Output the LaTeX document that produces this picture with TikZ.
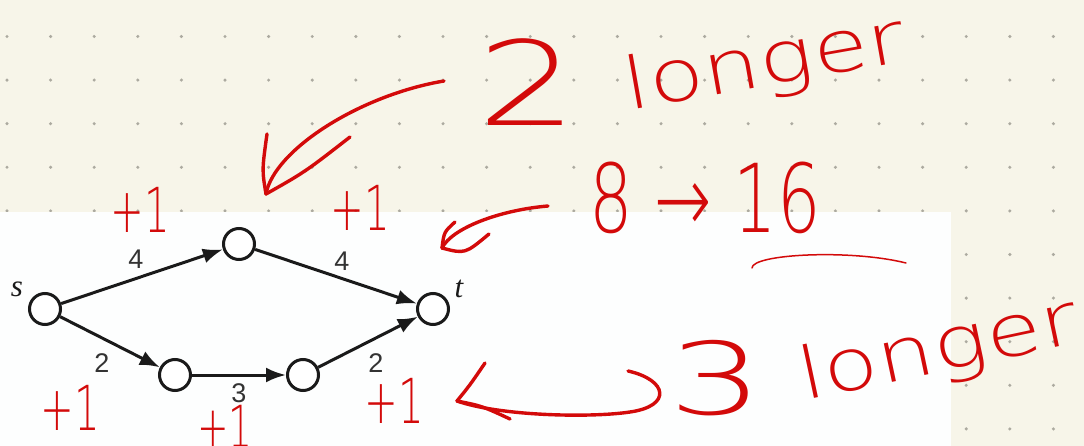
\documentclass[tikz,border=0pt]{standalone}
\usepackage{fontspec}
\usepackage{graphicx}
\setmainfont{Liberation Sans}
\newfontfamily\serifit{Liberation Serif}
\newfontfamily\hand{DejaVu Sans ExtraLight}
\usetikzlibrary{arrows.meta, positioning}
\definecolor{Paper}{HTML}{F7F5E9}
\definecolor{Sheet}{HTML}{FDFEFE}
\definecolor{Dot}{HTML}{ACAAA0}
\definecolor{Ink}{HTML}{1A1A1A}
\definecolor{Label}{HTML}{333333}
\definecolor{Pen}{HTML}{D30A0A}

\begin{document}
\begin{tikzpicture}[
  x=1pt, y=-1pt,
  vertex/.style={
    circle,
    draw=Ink,
    line width=3pt,
    fill=white,
    minimum size=31pt,
    inner sep=0pt
  },
  edge/.style={
    -{Latex[length=20pt,width=15pt]},
    line width=3pt,
    draw=Ink
  },
  weight/.style={
    text=Label,
    inner sep=2pt,
    font=\fontsize{27}{27}\selectfont
  },
  pen/.style={
    draw=Pen,
    line width=3.4pt,
    line cap=round,
    line join=round
  },
  scrawl/.style={
    text=Pen,
    inner sep=0pt
  }
]

\useasboundingbox (0,0) rectangle (1084,446);
\fill[Paper] (0,0) rectangle (1084,446);
\foreach \i in {0,...,24}
  \foreach \j in {0,...,9}
    \fill[Dot] ({7+43.6*\i},{36.5+43.6*\j}) circle (1.7pt);
\fill[Sheet] (0,212) rectangle (951,446);

% the network
\node[vertex] (s) at (45,309) {};
\node[vertex] (u) at (239,244) {};
\node[vertex] (t) at (433,309) {};
\node[vertex] (v) at (175,375) {};
\node[vertex] (w) at (303,375) {};

\node[text=Ink, font=\serifit\itshape\fontsize{31}{31}\selectfont] (slab) at (17,289) {s};
\node[text=Ink, font=\serifit\itshape\fontsize{31}{31}\selectfont] (tlab) at (459,289) {t};

\draw[edge] (s) -- (u) node[weight, midway, above=4pt, xshift=-6pt] {4};
\draw[edge] (u) -- (t) node[weight, midway, above=2pt, xshift=6pt] {4};
\draw[edge] (s) -- (v) node[weight, midway, below=8pt, xshift=-8pt] {2};
\draw[edge] (v) -- (w) node[weight, midway, below=5pt] {3};
\draw[edge] (w) -- (t) node[weight, midway, below=8pt, xshift=8pt] {2};

% red notes
\node[scrawl, font=\hand\fontsize{117}{117}\selectfont] (two) at (528,82)
  {\scalebox{1.35}[1]{2}};
\node[scrawl, rotate=10, font=\hand\fontsize{72}{72}\selectfont] (longa) at (765,66)
  {\scalebox{1.25}[1]{longer}};

\node[scrawl, font=\hand\fontsize{95}{95}\selectfont] (dbl) at (705,198)
  {\scalebox{0.72}[1]{8 → 16}};

\node[scrawl, font=\hand\fontsize{100}{100}\selectfont] (three) at (716,378)
  {\scalebox{1.5}[1]{3}};
\node[scrawl, rotate=12, font=\hand\fontsize{72}{72}\selectfont] (longb) at (939,352)
  {\scalebox{1.25}[1]{longer}};

\node[scrawl, font=\hand\fontsize{62}{62}\selectfont] (su) at (140,210) {\scalebox{0.65}[1]{+1}};
\node[scrawl, font=\hand\fontsize{62}{62}\selectfont] (ut) at (360,208) {\scalebox{0.65}[1]{+1}};
\node[scrawl, font=\hand\fontsize{62}{62}\selectfont] (sv) at (70,408) {\scalebox{0.65}[1]{+1}};
\node[scrawl, font=\hand\fontsize{58}{58}\selectfont] (vw) at (225,426) {\scalebox{0.65}[1]{+1}};
\node[scrawl, font=\hand\fontsize{62}{62}\selectfont] (wt) at (394,401) {\scalebox{0.65}[1]{+1}};

\coordinate (tipa) at (266,194);
\coordinate (taila) at (444,81);
\draw[pen] (taila) .. controls (360,95) and (274,150) .. (tipa);
\draw[pen] (tipa) .. controls (262,170) .. (267,134);
\draw[pen] (tipa) .. controls (305,172) .. (350,137);

\coordinate (tipb) at (442,248);
\coordinate (tailb) at (548,206);
\draw[pen] (tailb) .. controls (500,210) and (452,228) .. (tipb);
\draw[pen] (tipb) .. controls (444,232) .. (455,222);
\draw[pen] (tipb) .. controls (465,254) .. (489,234);

\coordinate (tipc) at (457,401);
\coordinate (tailc) at (628,371);
\draw[pen] (tailc) .. controls (668,380) and (672,406) .. (630,412)
  .. controls (590,418) and (500,416) .. (tipc);
\draw[pen] (tipc) .. controls (470,385) .. (485,363);
\draw[pen] (tipc) .. controls (482,406) .. (510,419);

\draw[draw=Pen, line width=1.5pt, line cap=round]
  (752,268) .. controls (752,254) and (850,249) .. (906,263);

\end{tikzpicture}
\end{document}
